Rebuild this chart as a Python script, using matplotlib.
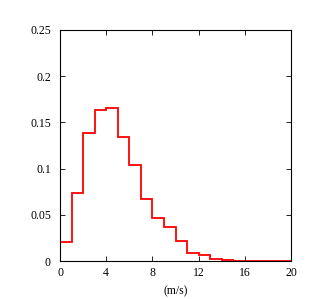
import numpy as np
import matplotlib
matplotlib.use("Agg")
import matplotlib.pyplot as plt

# wind speed histogram, 1 m/s bins
edges = np.arange(0, 21, 1)
freq = [0.021, 0.074, 0.139, 0.163, 0.165, 0.134, 0.104, 0.067, 0.047, 0.037,
        0.022, 0.0085, 0.006, 0.0018, 0.0012, 0.0004, 0.0002, 0.0001, 0.0001, 0.0001]
xticks = [0, 4, 8, 12, 16, 20]
yticks = [0, 0.05, 0.1, 0.15, 0.2, 0.25]
ytick_labels = ["0", "0.05", "0.1", "0.15", "0.2", "0.25"]

plt.rcParams['font.family'] = ['Liberation Serif', 'DejaVu Serif']

fig = plt.figure(figsize=(3.21, 2.99), dpi=100)
ax = fig.add_axes([0.187, 0.127, 0.7195, 0.773])

ax.stairs(freq, edges, color='red', linewidth=1.3)

ax.set_xlim(0, 20)
ax.set_ylim(0, 0.25)
ax.set_xticks(xticks)
ax.set_yticks(yticks)
ax.set_yticklabels(ytick_labels)
ax.tick_params(direction='in', top=True, right=True, length=3.5, width=0.6,
               labelsize=8.5, pad=4)
ax.tick_params(axis='y', pad=6.5)
for s in ax.spines.values():
    s.set_linewidth(0.8)
ax.set_xlabel("(m/s)", fontsize=8.5, labelpad=5)

plt.savefig("out.png", dpi=100)
plt.close()
